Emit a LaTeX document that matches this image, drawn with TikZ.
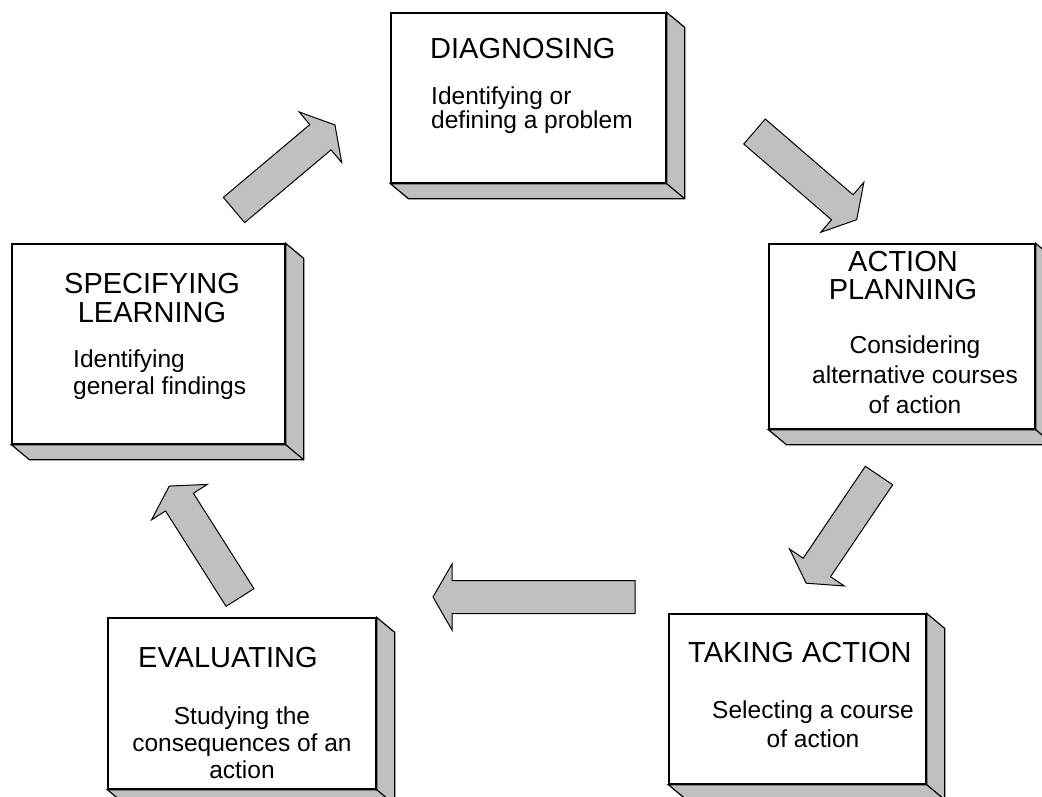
\documentclass[tikz,border=0pt]{standalone}
\usepackage{fontspec}
\setmainfont{Liberation Sans}
\usetikzlibrary{calc}
\definecolor{boxgray}{HTML}{C0C0C0}
\begin{document}
\begin{tikzpicture}[x=1pt,y=-1pt,
  front/.style={draw, line width=1.3pt, fill=white, inner sep=0pt},
  sidepanel/.style={draw, line width=1.2pt, fill=boxgray, line join=miter},
  title/.style={inner sep=0pt, font=\fontsize{29}{29}\selectfont},
  body/.style={inner sep=0pt, font=\fontsize{24.5}{#1}\selectfont},
  arrowbody/.style={draw, line width=1pt, fill=boxgray, line join=miter},
  pics/blockarrow/.style={code={\draw[arrowbody] (0,16.5) -- ({#1-19},16.5) -- ({#1-19},33) -- (#1,0) -- ({#1-19},-33) -- ({#1-19},-16.5) -- (0,-16.5) -- cycle;}}
]
\useasboundingbox (0,0) rectangle (1042,796);
\clip (0,0) rectangle (1042,796);

% boxes (front faces)
\node[front, minimum width=275, minimum height=170] (diag) at (528.5,98) {};
\node[front, minimum width=266, minimum height=185] (plan) at (902,336.5) {};
\node[front, minimum width=273, minimum height=200] (spec) at (148.5,344) {};
\node[front, minimum width=257, minimum height=170] (take) at (797.5,699) {};
\node[front, minimum width=268, minimum height=171] (eval) at (242,703.5) {};

% 3D sides
\foreach \n in {diag,plan,spec,take,eval}{
  \draw[sidepanel] (\n.north east) -- ++(18,15) -- ($(\n.south east)+(18,15)$)
     -- ($(\n.south west)+(18,15)$) -- (\n.south west) -- (\n.south east) -- cycle;
  \draw[sidepanel] (\n.south east) -- ++(18,15);
}

% block arrows
\coordinate (a1) at (234,210);
\coordinate (a2) at (754.5,131.5);
\coordinate (a3) at (879,475.5);
\coordinate (a4) at (635,597);
\coordinate (a5) at (240,597.5);
\pic[rotate=40.1] at (a1) {blockarrow=132};
\pic[rotate=-40.8] at (a2) {blockarrow=135};
\pic[rotate=-124.05] at (a3) {blockarrow=130};
\pic[rotate=180] at (a4) {blockarrow=202};
\pic[rotate=122.4] at (a5) {blockarrow=132};

% texts (base anchor = baseline of the last line)
\node[title, anchor=base west] (diagT) at (430,58) {DIAGNOSING};
\node[body=22.5, anchor=base west, align=left] (diagB) at (431,128.5) {Identifying or\\defining a problem};

\node[title, anchor=base, align=center, font=\fontsize{29}{28}\selectfont] (planT) at (903,299) {ACTION\\PLANNING};
\node[body=30, anchor=base, align=center] (planB) at (915,413) {Considering\\alternative courses\\of action};

\node[title, anchor=base, align=center, font=\fontsize{29}{29}\selectfont] (specT) at (152,322) {SPECIFYING\\LEARNING};
\node[body=27, anchor=base west, align=left] (specB) at (73,394.5) {Identifying\\general findings};

\node[title, anchor=base west] (takeT) at (688,662) {TAKING ACTION};
\node[body=29, anchor=base, align=center] (takeB) at (813,747) {Selecting a course\\of action};

\node[title, anchor=base west] (evalT) at (138,667) {EVALUATING};
\node[body=27, anchor=base, align=center] (evalB) at (242,778.5) {Studying the\\consequences of an\\action};
\end{tikzpicture}
\end{document}
